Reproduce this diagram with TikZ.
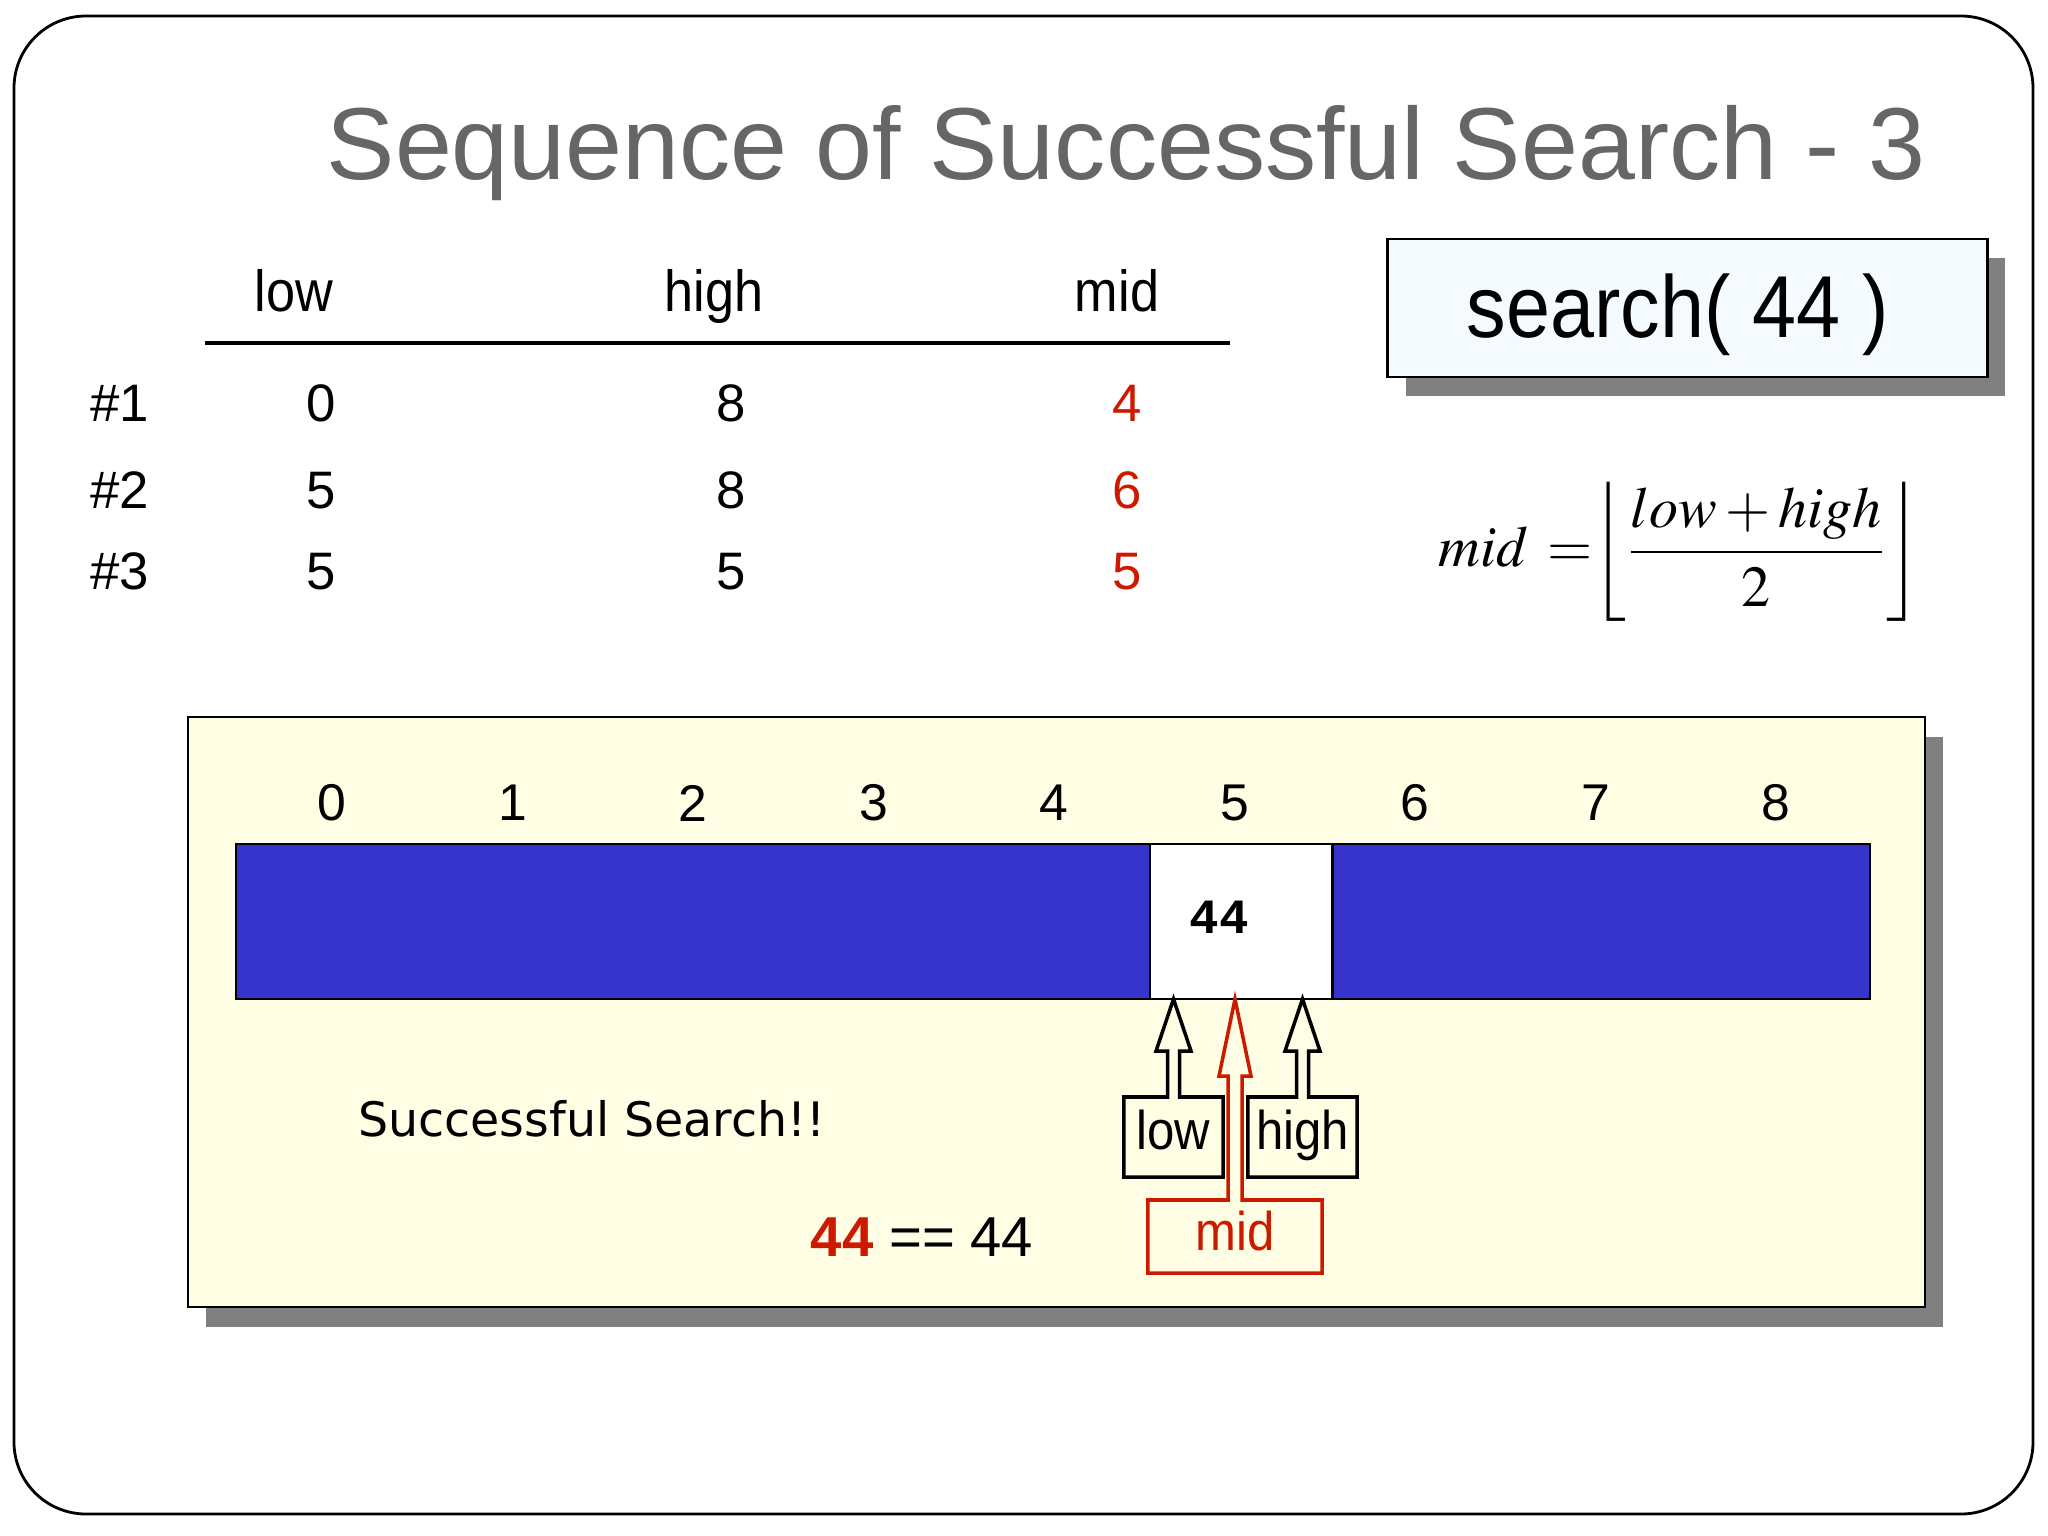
\documentclass[tikz,border=0pt]{standalone}
\usepackage{mathptmx}
\usepackage[no-math]{fontspec}
\setmainfont{Liberation Sans}
\newfontfamily\tahoma[FakeStretch=0.9]{Liberation Sans}
\newfontfamily\casual{DejaVu Sans}
\newfontfamily\mono{Liberation Mono}
\usetikzlibrary{calc,positioning}
\definecolor{bsTitle}{HTML}{666666}
\definecolor{bsRed}{HTML}{CC1A00}
\definecolor{bsBlue}{HTML}{3634CA}
\definecolor{bsPanel}{HTML}{FFFDE4}
\definecolor{bsShadow}{HTML}{808080}
\definecolor{bsBox}{HTML}{F5FAFF}
\tikzset{
  cell/.style={fill=bsBlue, minimum width=1.828cm,
    minimum height=1.55cm, inner sep=0pt, outer sep=0pt},
  idx/.style={font=\fontsize{14.7}{16}\selectfont},
  hdr/.style={font=\tahoma\fontsize{16.5}{19}\selectfont, anchor=base},
  run/.style={font=\fontsize{15}{17}\selectfont, anchor=base},
  val/.style={font=\fontsize{15}{17}\selectfont, anchor=base},
  ptrlbl/.style={inner sep=0pt, outer sep=0pt, font=\tahoma\fontsize{15.5}{17}\selectfont,
    text height=0.85em, text depth=0.15em, minimum height=0.8cm},
  ptr/.style={line width=1pt, line join=miter},
  panel/.style={draw=black, line width=0.8pt}
}
\begin{document}
\begin{tikzpicture}[x=0.01cm, y=-0.01cm]
  \useasboundingbox (0,0) rectangle (2048,1536);
  \draw[line width=0.8pt, rounded corners=0.72cm] (14,16) rectangle (2033,1514);

  \node[font=\fontsize{29.1}{32}\selectfont, text=bsTitle, anchor=base] (title) at (1126,179)
    {Sequence of Successful Search - 3};

  % call box
  \fill[bsShadow] (1406,258) rectangle (2005,396);
  \node[panel, fill=bsBox, minimum width=5.99cm, minimum height=1.38cm, inner sep=0pt] (call) at (1687.5,308) {};
  \node[font=\tahoma\fontsize{25}{28}\selectfont, anchor=base] (calltxt) at (1678,337) {search( 44 )};

  % formula
  \node[font=\fontsize{16.5}{19}\selectfont] (formula) at (1679,552)
    {$\displaystyle mid\,=\!\!\left\lfloor \frac{low+high}{2} \right\rfloor$};

  % trace table
  \node[hdr] (hlow) at (294,311) {low};
  \node[hdr] (hhigh) at (714,311) {high};
  \node[hdr] (hmid) at (1117,311) {mid};
  \draw[line width=1.1pt] (205,343) -- (1230,343);
  \foreach \r/\y/\l/\h/\m in {1/421/0/8/4, 2/508/5/8/6, 3/589/5/5/5} {
    \node[run] (n\r) at (120,\y) {\#\r};
    \node[val] (l\r) at (321,\y) {\l};
    \node[val] (h\r) at (731,\y) {\h};
    \node[val, text=bsRed] (m\r) at (1127,\y) {\m};
  }

  % array panel
  \fill[bsShadow] (206,737) rectangle (1943,1327);
  \draw[panel, fill=bsPanel] (188,717) rectangle (1925,1307);
  \foreach \i in {0,...,7} {
    \node[cell] (c\i) at ({327.4+182.8*\i},921.5) {};
  }
  \node[cell, minimum width=1.72cm] (c8) at (1784,921.5) {};
  \foreach \i in {0,...,8} {
    \node[idx] (i\i) at ({332+180.5*\i},803) {\i};
  }
  \draw[line width=0.8pt] (c0.north west) rectangle (c8.south east);
  \node[cell, fill=white, draw=black, line width=0.8pt] (c5) at ({327.4+182.8*5},921.5) {};
  \node[font=\mono\bfseries\fontsize{14}{16}\selectfont] (key) at (1219,917) {44};

  % pointers
  \node[ptrlbl, minimum width=0.99cm] (lo) at (1173.5,1137) {low};
  \node[ptrlbl, minimum width=1.09cm] (hi) at (1302.5,1137) {high};
  \node[ptrlbl, minimum width=1.74cm, minimum height=0.73cm, text height=0.9em, text depth=0.1em,
    text=bsRed] (md) at (1235,1236.5) {mid};
  \coordinate (loTip) at (lo.north |- c5.south);
  \coordinate (hiTip) at (hi.north |- c5.south);
  \coordinate (mdTip) at (md.north |- c5.south);
  \draw[ptr] (lo.north west) -- ($(lo.north)+(-6,0)$) -- ($(loTip)+(-6,52)$) -- ($(loTip)+(-17.5,52)$)
    -- (loTip) -- ($(loTip)+(17.5,52)$) -- ($(loTip)+(6,52)$) -- ($(lo.north)+(6,0)$)
    -- (lo.north east) |- (lo.south west) -- cycle;
  \draw[ptr] (hi.north west) -- ($(hi.north)+(-6,0)$) -- ($(hiTip)+(-6,52)$) -- ($(hiTip)+(-17.5,52)$)
    -- (hiTip) -- ($(hiTip)+(17.5,52)$) -- ($(hiTip)+(6,52)$) -- ($(hi.north)+(6,0)$)
    -- (hi.north east) |- (hi.south west) -- cycle;
  \draw[ptr, bsRed] (md.north west) -- ($(md.north)+(-7,0)$) -- ($(mdTip)+(-7,77)$) -- ($(mdTip)+(-16,77)$)
    -- (mdTip) -- ($(mdTip)+(16,77)$) -- ($(mdTip)+(7,77)$) -- ($(md.north)+(7,0)$)
    -- (md.north east) |- (md.south west) -- cycle;

  \node[font=\casual\fontsize{13.5}{16}\selectfont] (msg) at (592,1119) {Successful Search!!};
  \node[font=\fontsize{16}{18}\selectfont] (cmp) at (922,1237)
    {\textbf{\textcolor{bsRed}{44}} == 44};
\end{tikzpicture}
\end{document}
